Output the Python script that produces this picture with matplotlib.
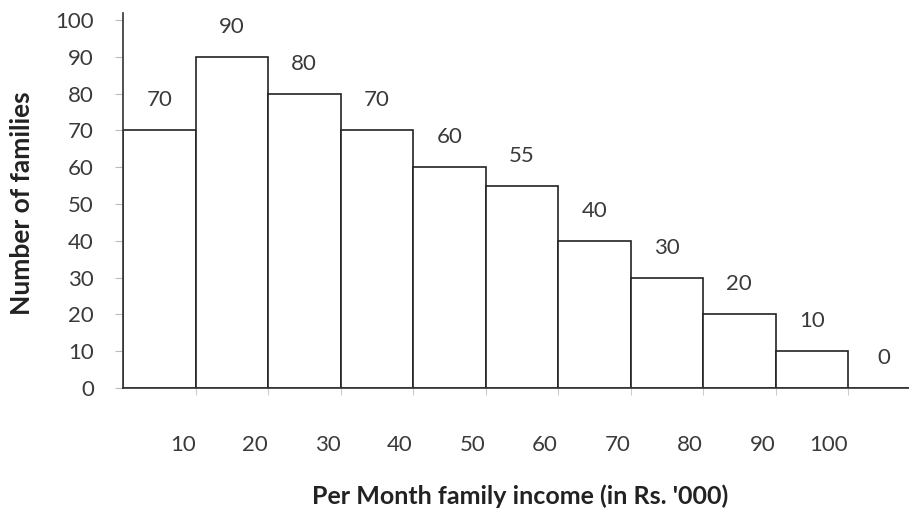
import matplotlib
matplotlib.use("Agg")
import matplotlib.pyplot as plt

# data
bin_left = [0, 10, 20, 30, 40, 50, 60, 70, 80, 90, 100]
families = [70, 90, 80, 70, 60, 55, 40, 30, 20, 10, 0]
x_ticks = [10, 20, 30, 40, 50, 60, 70, 80, 90, 100]
x_tick_labels = ["10", "20", "30", "40", "50", "60", "70", "80", "90", "100"]
y_ticks = [0, 10, 20, 30, 40, 50, 60, 70, 80, 90, 100]

plt.rcParams['font.family'] = ['Lato', 'DejaVu Sans']
W, H = 909, 511
fig = plt.figure(figsize=(W / 100, H / 100), dpi=100)
left_px, right_px = 123, 920.5
bottom_px, top_px = 388, 388 - 3.68 * 102
ax = fig.add_axes([left_px / W, (H - bottom_px) / H,
                   (right_px - left_px) / W, (bottom_px - top_px) / H])

txt = '#3a3a3a'
ax.bar(bin_left, families, width=10, align='edge', facecolor='white',
       edgecolor='#222222', linewidth=1.2, zorder=2)

for x, v in zip(bin_left, families):
    ax.annotate(str(v), xy=(x + 5, v), xytext=(0, 30 * 72 / 100),
                textcoords='offset points', ha='center', va='center',
                fontsize=16, color=txt)

ax.set_xlim(0, 110)
ax.set_ylim(0, 102)
ax.set_yticks(y_ticks)
ax.set_xticks(x_ticks)
ax.set_xticklabels(x_tick_labels, ha='right')

for s in ['top', 'right']:
    ax.spines[s].set_visible(False)
for s in ['left', 'bottom']:
    ax.spines[s].set_color('#333333')
    ax.spines[s].set_linewidth(1.2)

ax.tick_params(axis='y', length=6, width=0.8, color='#bbbbbb', pad=15,
               labelsize=16, labelcolor=txt)
ax.tick_params(axis='x', length=5, width=0.8, color='#cccccc', pad=29,
               labelsize=16, labelcolor=txt)

fig.text(22 / W, 1 - 203 / H, "Number of families", rotation=90,
         ha='center', va='center', fontsize=19, fontweight='bold', color='#222222')
fig.text(520 / W, 1 - 496 / H, "Per Month family income (in Rs. '000)",
         ha='center', va='center', fontsize=18, fontweight='bold', color='#222222')

fig.savefig("out.png", dpi=100)
